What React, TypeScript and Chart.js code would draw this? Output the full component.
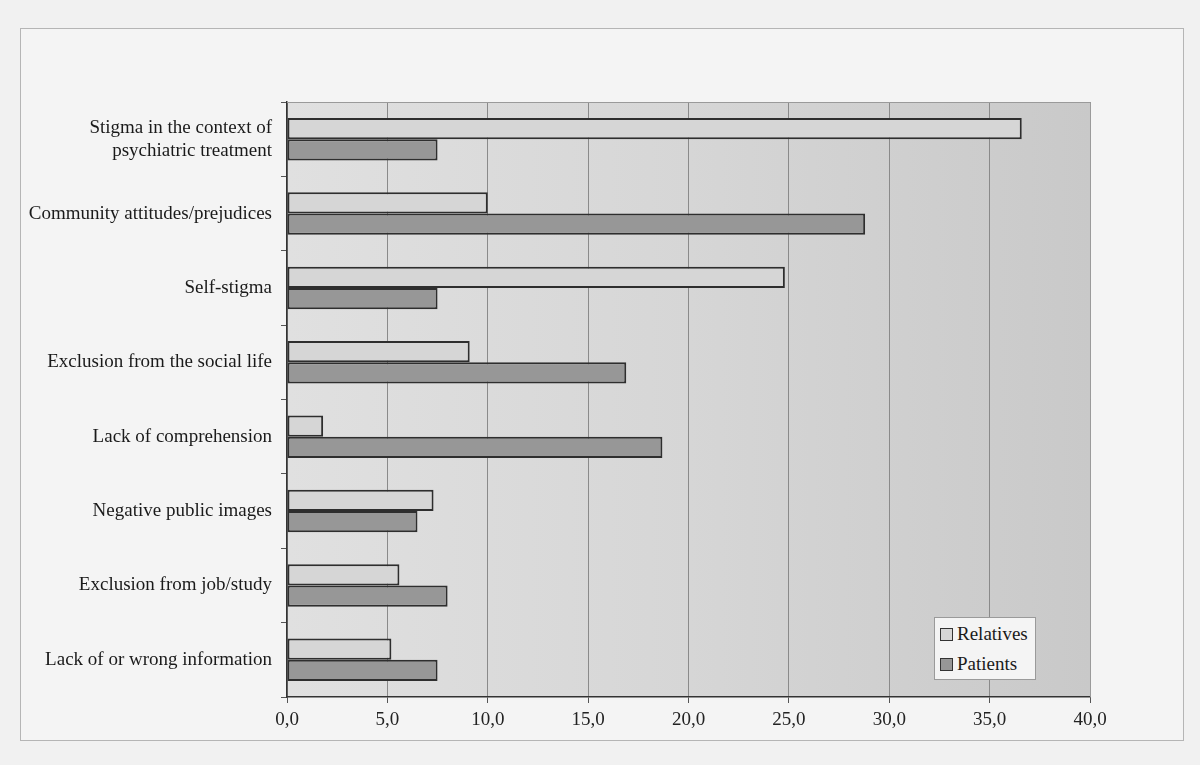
import React, { useEffect, useRef } from "react";
import { Chart, registerables } from "chart.js";

Chart.register(...registerables);

const categories: (string | string[])[] = [
  ["Stigma in the context of", "psychiatric treatment"],
  "Community attitudes/prejudices",
  "Self-stigma",
  "Exclusion from the social life",
  "Lack of comprehension",
  "Negative public images",
  "Exclusion from job/study",
  "Lack of or wrong information",
];

const relatives = [36.6, 10.0, 24.8, 9.1, 1.8, 7.3, 5.6, 5.2];
const patients = [7.5, 28.8, 7.5, 16.9, 18.7, 6.5, 8.0, 7.5];

const seriesNames = ["Relatives", "Patients"];
const seriesColors = ["#d6d6d6", "#979797"];

const xMin = 0;
const xMax = 40;
const xStep = 5;

const FONT = "'Liberation Serif', 'Times New Roman', serif";

const decorPlugin = {
  id: "decor",
  beforeDraw(chart: any) {
    const { ctx, chartArea } = chart;
    ctx.save();
    ctx.fillStyle = "#f1f1f1";
    ctx.fillRect(0, 0, chart.width, chart.height);
    ctx.fillStyle = "#f4f4f4";
    ctx.fillRect(20, 28, 1163, 712);
    ctx.strokeStyle = "#b5b5b5";
    ctx.lineWidth = 1;
    ctx.strokeRect(20.5, 28.5, 1163, 712);
    const g = ctx.createLinearGradient(chartArea.left, 0, chartArea.right, 0);
    g.addColorStop(0, "#e0e0e0");
    g.addColorStop(0.5, "#d6d6d6");
    g.addColorStop(1, "#c9c9c9");
    ctx.fillStyle = g;
    ctx.fillRect(chartArea.left, chartArea.top, chartArea.right - chartArea.left, chartArea.bottom - chartArea.top);
    ctx.restore();
  },
  afterDatasetsDraw(chart: any) {
    const { ctx, chartArea } = chart;
    ctx.save();
    ctx.strokeStyle = "#9a9a9a";
    ctx.lineWidth = 1;
    ctx.beginPath();
    ctx.moveTo(chartArea.left, chartArea.top + 0.5);
    ctx.lineTo(chartArea.right + 0.5, chartArea.top + 0.5);
    ctx.lineTo(chartArea.right + 0.5, chartArea.bottom);
    ctx.stroke();
    ctx.restore();
  },
};

export default function App() {
  const ref = useRef<HTMLCanvasElement>(null);

  useEffect(() => {
    if (!ref.current) return;
    const chart = new Chart(ref.current, {
      type: "bar",
      data: {
        labels: categories,
        datasets: [
          {
            label: seriesNames[0],
            data: relatives,
            backgroundColor: seriesColors[0],
            borderColor: "#2e2e2e",
            borderWidth: 2,
            borderSkipped: false,
            categoryPercentage: 0.57,
            barPercentage: 1.0,
          },
          {
            label: seriesNames[1],
            data: patients,
            backgroundColor: seriesColors[1],
            borderColor: "#2e2e2e",
            borderWidth: 2,
            borderSkipped: false,
            categoryPercentage: 0.57,
            barPercentage: 1.0,
          },
        ],
      },
      options: {
        indexAxis: "y",
        animation: false,
        responsive: false,
        maintainAspectRatio: false,
        layout: { padding: { left: 20, top: 102, right: 110, bottom: 28 } },
        plugins: {
          legend: { display: false },
          tooltip: { enabled: false },
        },
        scales: {
          x: {
            min: xMin,
            max: xMax,
            ticks: {
              stepSize: xStep,
              color: "#222",
              font: { family: FONT, size: 19 },
              padding: 6,
              callback: (v: any) => Number(v).toFixed(1).replace(".", ","),
            },
            grid: {
              color: "#8a8a8a",
              lineWidth: 1,
              drawTicks: true,
              tickLength: 6,
              tickColor: "#555",
            },
            border: { display: true, color: "#333", width: 1.5 },
            afterFit: (s: any) => {
              s.height = 40;
            },
          },
          y: {
            ticks: {
              color: "#1a1a1a",
              font: { family: FONT, size: 19, lineHeight: 1.2 },
              padding: 9,
            },
            grid: {
              drawOnChartArea: false,
              drawTicks: true,
              tickLength: 6,
              tickColor: "#555",
              offset: true,
            },
            border: { display: true, color: "#333", width: 1.5 },
            afterFit: (s: any) => {
              s.width = 267;
            },
          },
        },
      },
      plugins: [decorPlugin],
    });
    return () => chart.destroy();
  }, []);

  const legendItem = (name: string, color: string) => (
    <div style={{ display: "flex", alignItems: "center", height: 30 }}>
      <span
        style={{
          display: "inline-block",
          width: 11,
          height: 11,
          background: color,
          border: "1.5px solid #333",
          marginRight: 4,
        }}
      />
      <span style={{ fontFamily: FONT, fontSize: 19, color: "#1a1a1a" }}>{name}</span>
    </div>
  );

  return (
    <div style={{ position: "absolute", left: 0, top: 0, width: 1200, height: 765 }}>
      <canvas ref={ref} width={1200} height={765} style={{ display: "block" }} />
      <div
        style={{
          position: "absolute",
          left: 934,
          top: 617,
          width: 102,
          height: 63,
          background: "#f4f4f4",
          border: "1px solid #9a9a9a",
          paddingLeft: 5,
          paddingTop: 1,
          boxSizing: "border-box",
        }}
      >
        {legendItem(seriesNames[0], seriesColors[0])}
        {legendItem(seriesNames[1], seriesColors[1])}
      </div>
    </div>
  );
}
